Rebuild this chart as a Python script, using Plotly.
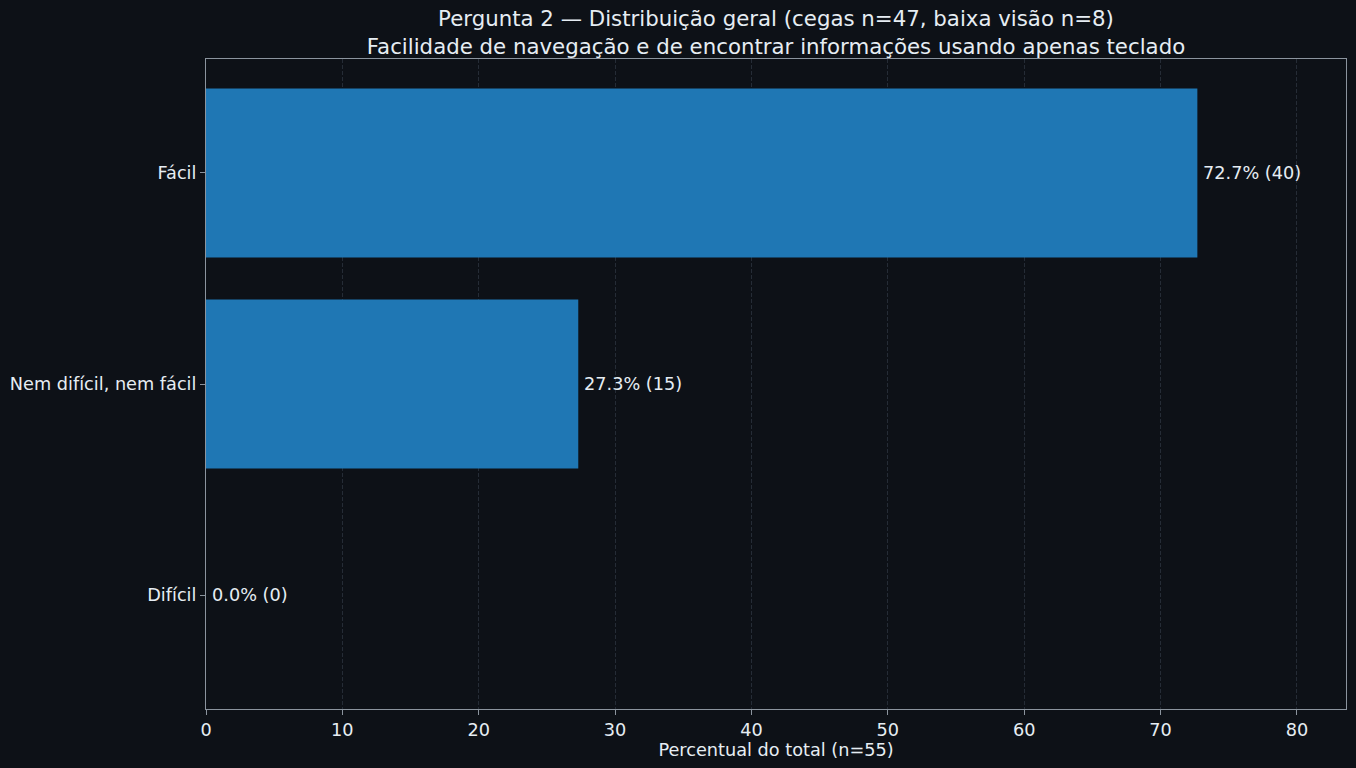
import plotly.graph_objects as go

# Dados (ordem de baixo para cima)
categorias = ["Difícil", "Nem difícil, nem fácil", "Fácil"]
percentuais = [0.0, 27.3, 72.7]
contagens = [0, 15, 40]
ticks_x = [0, 10, 20, 30, 40, 50, 60, 70, 80]

fundo = "#0d1117"
texto = "#e6edf3"
borda = "#8b949e"
grade = "#252c36"

fig = go.Figure()
fig.add_trace(go.Bar(
    x=percentuais, y=categorias, orientation="h",
    marker=dict(color="#1f77b4", line=dict(width=0)),
    hoverinfo="skip",
))

# Rótulos à direita das barras
for p, c, cat in zip(percentuais, contagens, categorias):
    fig.add_annotation(x=p, y=cat, text=f"{p:.1f}% ({c})", showarrow=False,
                       xanchor="left", xshift=4, font=dict(size=17.7, color=texto))

fig.update_layout(
    width=1356, height=768,
    paper_bgcolor=fundo, plot_bgcolor=fundo,
    font=dict(family="DejaVu Sans", color=texto, size=17.7),
    margin=dict(l=206, r=10, t=59, b=59),
    bargap=0.2, showlegend=False,
    title=dict(
        text="Pergunta 2 — Distribuição geral (cegas n=47, baixa visão n=8)<br>"
             "Facilidade de navegação e de encontrar informações usando apenas teclado",
        x=0.5, xref="paper", xanchor="center", y=0.966, yanchor="top",
        font=dict(size=21.3, color=texto)),
)
fig.update_xaxes(
    range=[0, 83.6], tickvals=ticks_x, showgrid=True, gridcolor=grade, griddash="4px,2px",
    gridwidth=1, zeroline=False, showline=True, linecolor=borda, mirror=True,
    ticks="outside", ticklen=5, tickcolor=borda,
    title=dict(text="Percentual do total (n=55)", standoff=4, font=dict(size=17.7)),
)
fig.update_yaxes(
    range=[-0.54, 2.54], showgrid=False, zeroline=False, showline=True,
    linecolor=borda, mirror=True, ticks="outside", ticklen=5, tickcolor=borda,
)

fig.write_html("out.html", config={"displayModeBar": False},
               post_script="document.body.style.margin='0';"
                           "document.body.style.background='#0d1117';")
